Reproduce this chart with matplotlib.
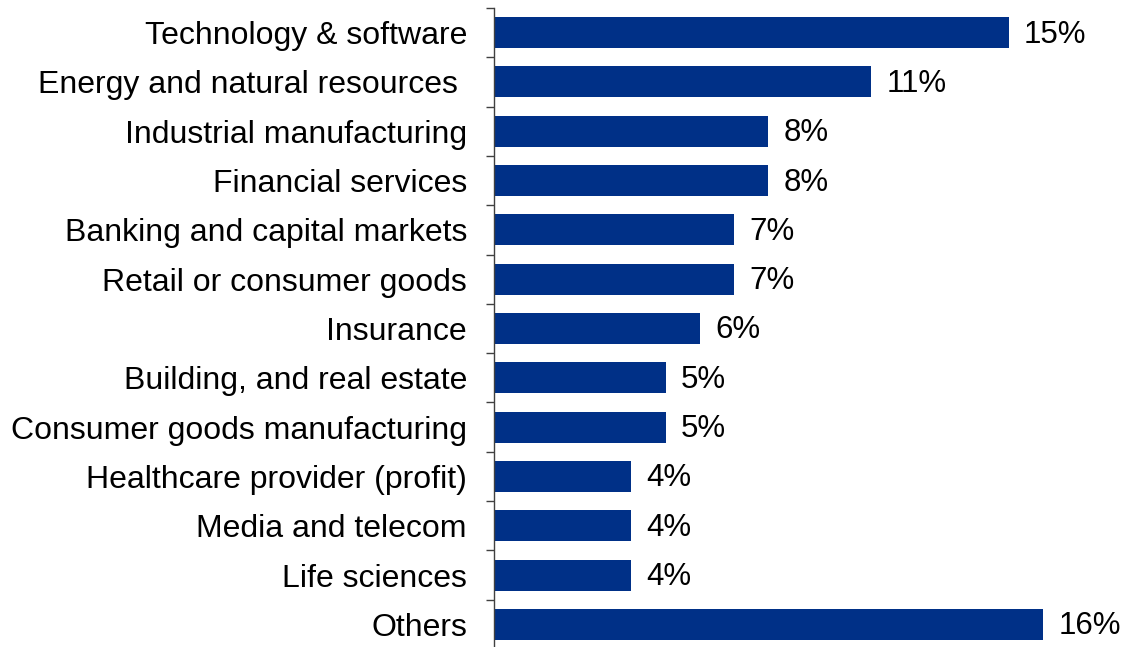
import numpy as np
import matplotlib.pyplot as plt

plt.rcParams['font.family'] = ['Liberation Sans', 'DejaVu Sans']

# Sectors and shares (%)
sectors = ["Technology & software", "Energy and natural resources ", "Industrial manufacturing",
           "Financial services", "Banking and capital markets", "Retail or consumer goods",
           "Insurance", "Building, and real estate", "Consumer goods manufacturing",
           "Healthcare provider (profit)", "Media and telecom", "Life sciences", "Others"]
shares = [15, 11, 8, 8, 7, 7, 6, 5, 5, 4, 4, 4, 16]

fig = plt.figure(figsize=(11.22, 6.47), dpi=100)
ax = fig.add_axes([494 / 1122, -2 / 647, 617.4 / 1122, 641 / 647])

y = np.arange(len(sectors))
ax.barh(y, shares, height=0.63, color="#003087")

for yi, v in zip(y, shares):
    ax.text(v + 0.45, yi + 0.04, f"{v}%", va="center", ha="left", fontsize=22.5)

ax.set_ylim(len(sectors) - 0.5, -0.5)
ax.set_xlim(0, 18)
ax.set_yticks(y)
ax.set_yticklabels(sectors, fontsize=23)
ax.set_yticks(np.arange(-0.5, len(sectors) + 0.5, 1), minor=True)
ax.tick_params(axis="y", which="major", length=0, pad=19.5)
ax.tick_params(axis="y", which="minor", length=6, width=1, color="#404040")
ax.set_xticks([])

for s in ["top", "right", "bottom"]:
    ax.spines[s].set_visible(False)
ax.spines["left"].set_color("#404040")
ax.spines["left"].set_linewidth(1)

fig.savefig("out.png", dpi=100)
